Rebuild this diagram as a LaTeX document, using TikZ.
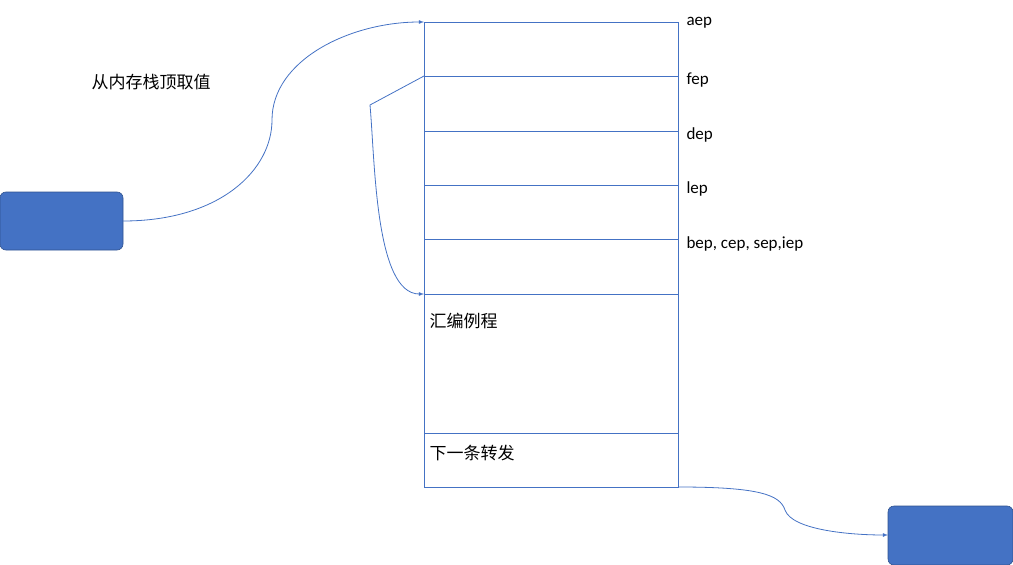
\documentclass[tikz,border=0pt]{standalone}
\usepackage{fontspec}
\setmainfont{Carlito}
\newfontfamily\cjk{Noto Sans CJK SC}
\begin{document}
\begin{tikzpicture}[x=1pt,y=-1pt,
  ln/.style={draw=blue!40!black!60!cyan, line width=0.6pt},
  conn/.style={draw={rgb,255:red,68;green,114;blue,196}, line width=0.8pt, -latex},
  cell/.style={draw={rgb,255:red,68;green,114;blue,196}, line width=0.6pt},
  blk/.style={draw={rgb,255:red,47;green,82;blue,143}, fill={rgb,255:red,68;green,114;blue,196}, rounded corners=6pt, line width=0.6pt},
  lab/.style={anchor=west, font=\fontsize{17}{17}\selectfont},
  cn/.style={anchor=west, font=\cjk\fontsize{17}{17}\selectfont}]
\useasboundingbox (0,0) rectangle (1013,565);
\draw[blk] (0,192) rectangle (123,250);
\node (L) at (123,221) {};
\draw[blk] (888,506) rectangle (1013,565);
\coordinate (R) at (888,535);
\foreach \a/\b in {22/76,76/131,131/185,185/239,239/294,294/433,433/487}
  \draw[cell] (424,\a) rectangle (678,\b);
\coordinate (t0) at (424,22);
\coordinate (t1) at (424,76);
\coordinate (t5) at (424,294);
\coordinate (tb) at (678,487);
\coordinate (L0) at (123,221);
\coordinate (k) at (370,105);
\node[lab] at (683,23) {aep};
\node[lab] at (683,80) {fep};
\node[lab] at (683,135) {dep};
\node[lab] at (683,189) {lep};
\node[lab] at (683,244) {bep, cep, sep,iep};
\node[cn] at (88,82) {从内存栈顶取值};
\node[cn] at (426,321) {汇编例程};
\node[cn] at (426,453) {下一条转发};
\draw[conn] (L0) .. controls (220,221) and (272,170) .. (272,120) .. controls (272,60) and (350,22) .. (t0);
\draw[conn] (t1) -- (k) .. controls (375,160) and (375,294) .. (t5);
\draw[conn] (tb) .. controls (760,487) and (780,495) .. (785,510) .. controls (792,530) and (850,535) .. (R);
\end{tikzpicture}
\end{document}
